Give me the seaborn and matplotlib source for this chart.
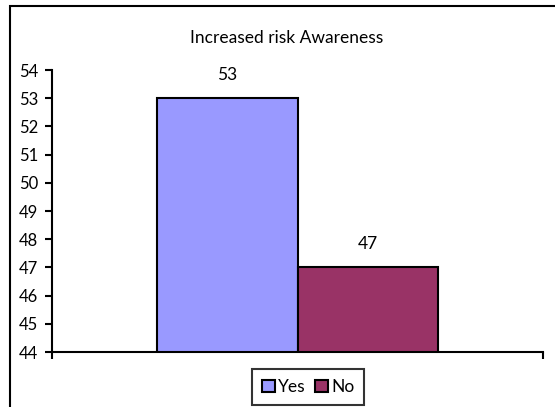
import matplotlib
matplotlib.use("Agg")
import matplotlib.pyplot as plt
from matplotlib.patches import Rectangle
import seaborn as sns
import pandas as pd

title = "Increased risk Awareness"
categories = ["Yes", "No"]
values = [53, 47]
colors = ["#9999FF", "#993366"]
y_ticks = list(range(44, 55))

sns.set_theme(style="white")
plt.rcParams["font.family"] = ["Lato", "DejaVu Sans"]
plt.rcParams["text.color"] = "black"
plt.rcParams["xtick.color"] = "black"
plt.rcParams["ytick.color"] = "black"

df = pd.DataFrame({"group": [""] * len(categories), "answer": categories, "value": values})

fig = plt.figure(figsize=(5.55, 4.07), dpi=100)
ax = fig.add_axes([52 / 555, 1 - 352 / 407, (543 - 52) / 555, (352 - 70) / 407])

sns.barplot(data=df, x="group", y="value", hue="answer", hue_order=categories,
            palette=colors, width=0.572, edgecolor="black", linewidth=1.5,
            saturation=1, ax=ax, legend=True)

ax.set_ylim(44, 54)
ax.set_xlim(-0.5, 0.5)
ax.set_yticks(y_ticks)
ax.set_yticklabels([str(t) for t in y_ticks], fontsize=12)
ax.set_xticks([-0.5, 0.5])
ax.set_xticklabels(["", ""])
ax.set_xlabel("")
ax.set_ylabel("")
ax.tick_params(axis="both", direction="out", length=5, width=1.5, color="black",
               labelcolor="black", left=True, bottom=True, pad=5)
for side in ["top", "right"]:
    ax.spines[side].set_visible(False)
for side in ["left", "bottom"]:
    ax.spines[side].set_color("black")
    ax.spines[side].set_linewidth(1.5)

# value labels above each bar
for patch, v in zip(ax.patches, values):
    ax.annotate(str(v), (patch.get_x() + patch.get_width() / 2, v),
                xytext=(0, 11), textcoords="offset points", ha="center", va="bottom",
                fontsize=12.5, color="black", annotation_clip=False)

fig.text(287 / 555, 1 - 38 / 407, title, ha="center", va="center", fontsize=12.5,
         color="black")

leg = ax.legend(loc="center", bbox_to_anchor=(308 / 555, 1 - 387 / 407),
                bbox_transform=fig.transFigure, ncol=2, frameon=True, fancybox=False,
                handlelength=0.75, handleheight=0.75, handletextpad=0.2, columnspacing=0.5,
                borderpad=0.55, fontsize=12.5)
leg.get_frame().set_edgecolor("black")
leg.get_frame().set_linewidth(1.5)
for t in leg.get_texts():
    t.set_color("black")
for h in leg.legend_handles:
    h.set_edgecolor("black")
    h.set_linewidth(1.5)

# chart area border
fig.patches.append(Rectangle((10 / 555, -0.05), 1.2, 1 - 6 / 407 + 0.05,
                             transform=fig.transFigure, fill=False,
                             edgecolor="black", linewidth=1.5, zorder=10))

fig.savefig("out.png", dpi=100)
